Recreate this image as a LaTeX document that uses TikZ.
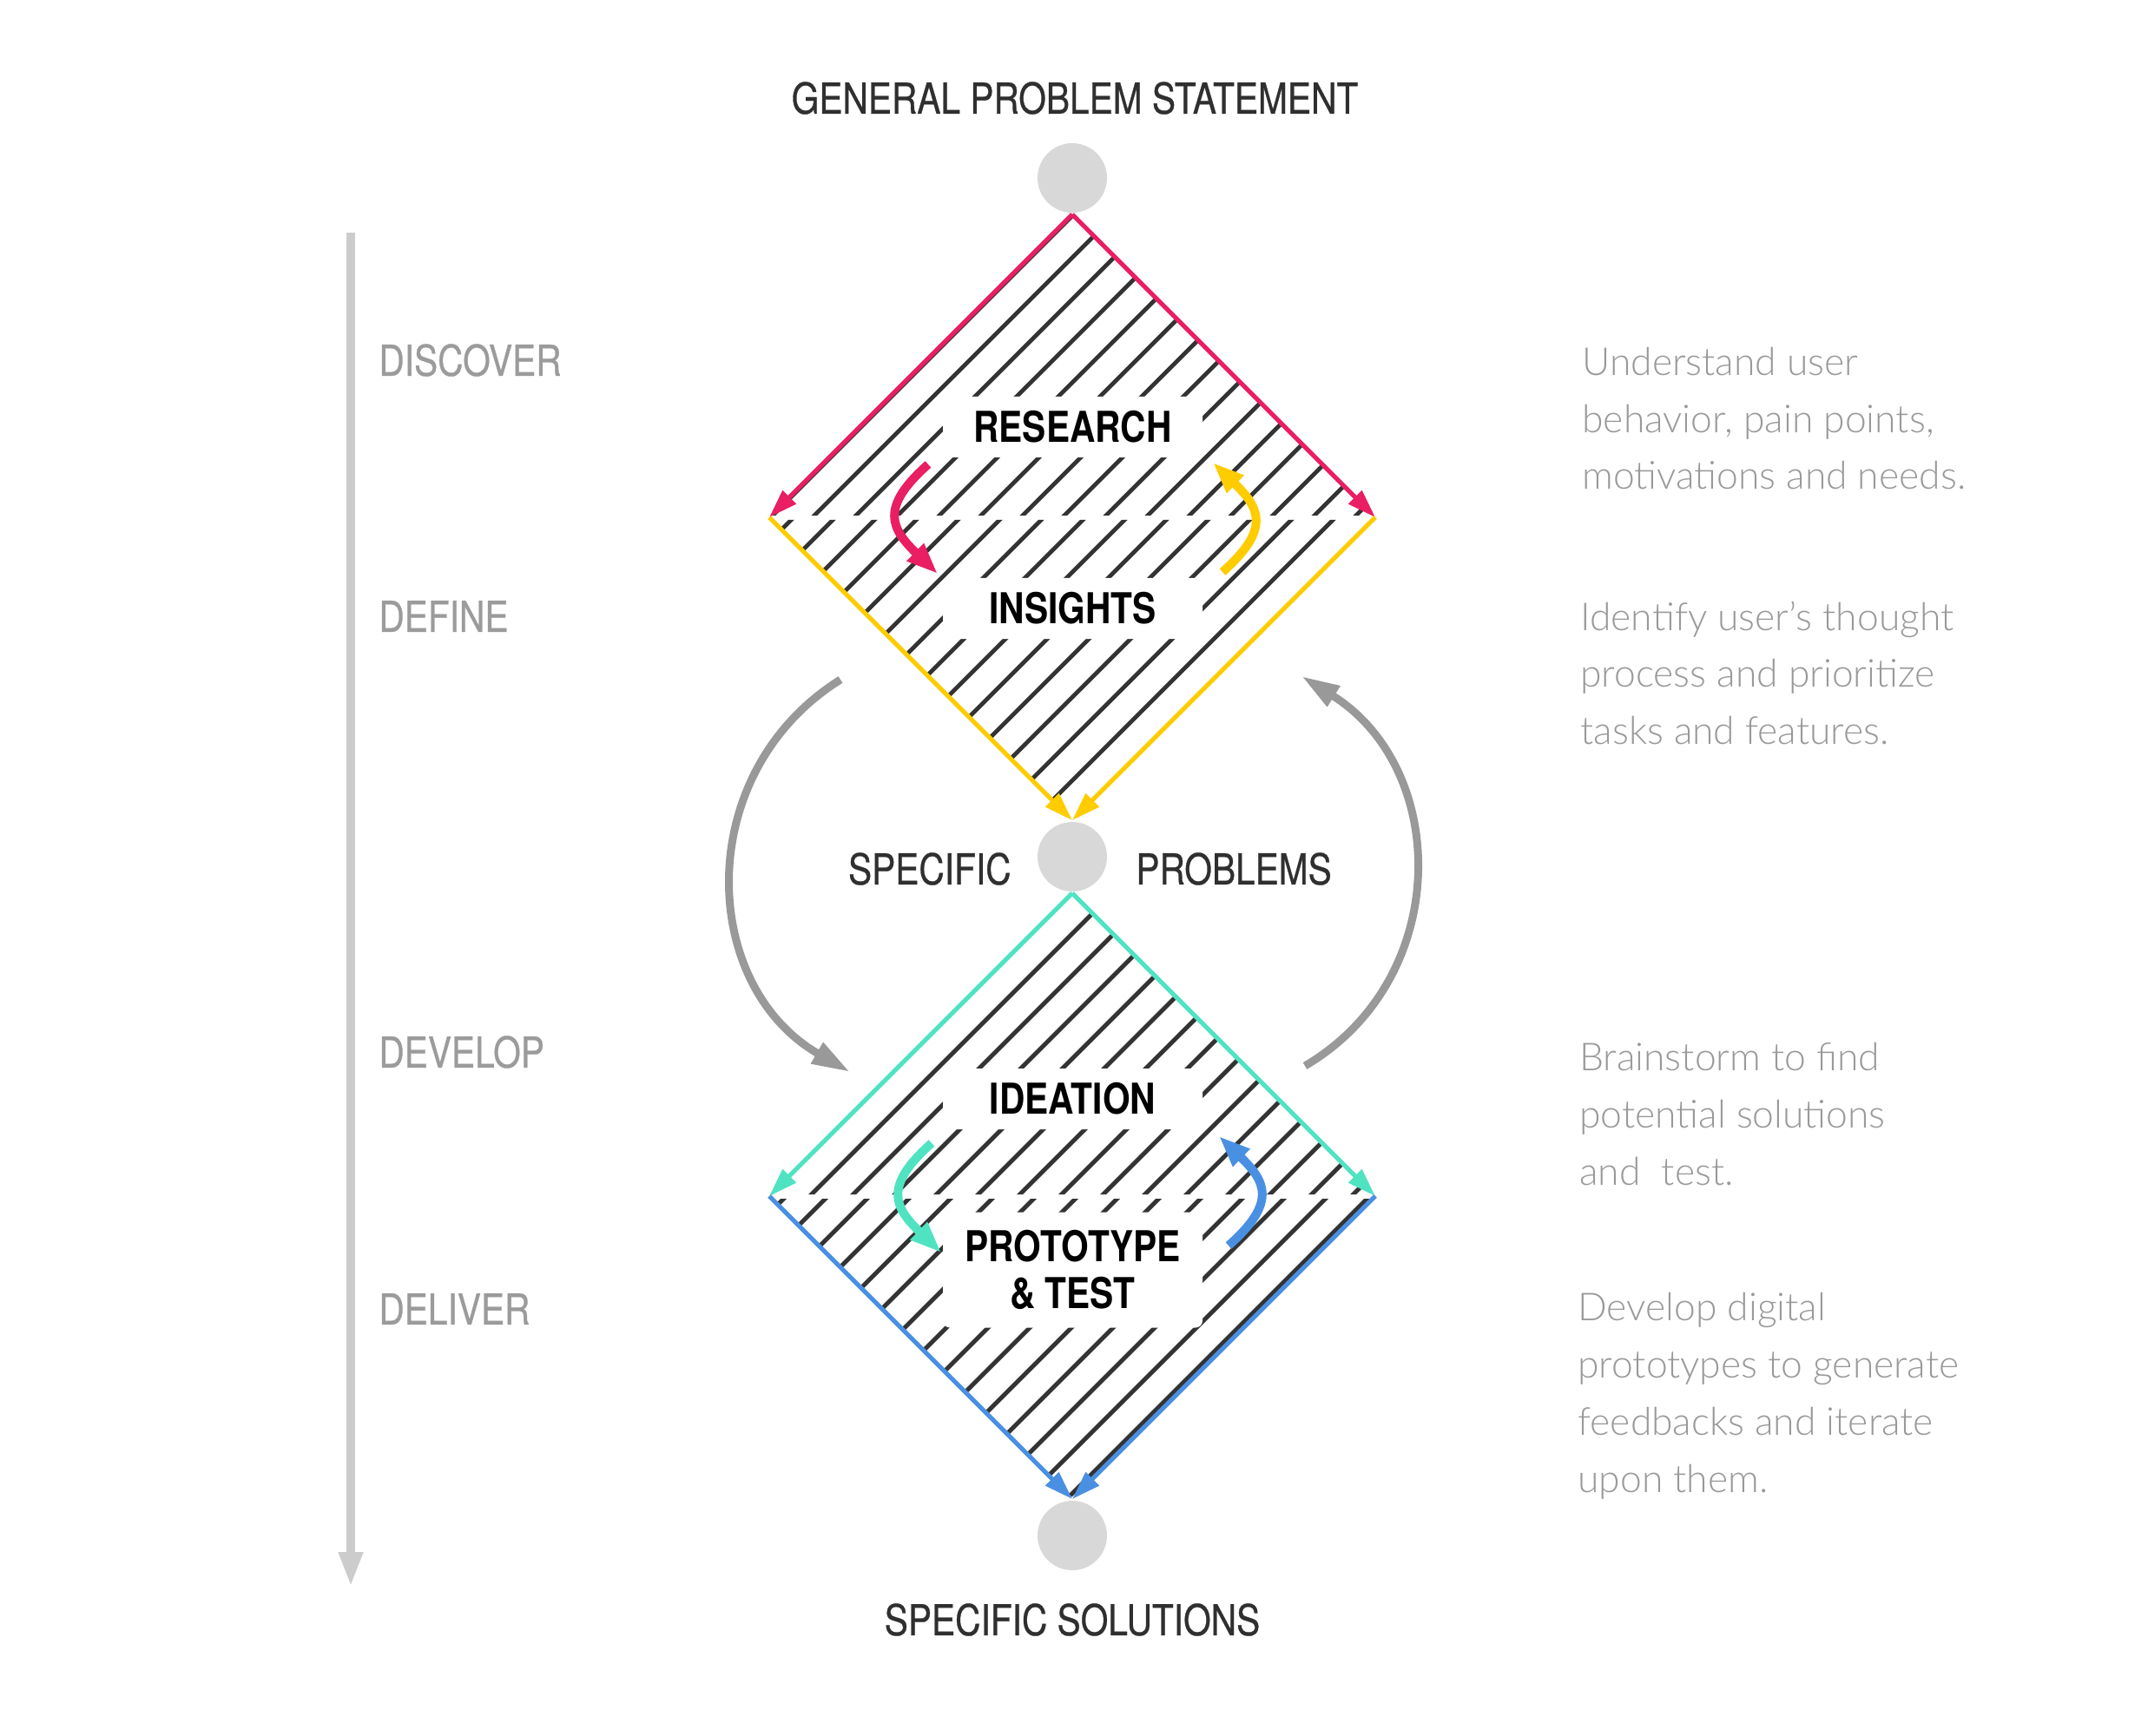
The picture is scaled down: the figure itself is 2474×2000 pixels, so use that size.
\documentclass[tikz,border=0pt]{standalone}
\usepackage{fontspec}
\usetikzlibrary{arrows.meta}
\newfontfamily\headfont[FakeStretch=0.83]{TeX Gyre Heros}
\newfontfamily\titlefont[FakeStretch=0.83, FakeBold=0.6]{TeX Gyre Heros}
\newfontfamily\descfont{Lato Light}

\definecolor{pinkedge}{HTML}{E91E63}
\definecolor{yellowedge}{HTML}{FFCC00}
\definecolor{tealedge}{HTML}{50E3C2}
\definecolor{blueedge}{HTML}{4A90E2}
\definecolor{dotgray}{HTML}{D8D8D8}
\definecolor{arcgray}{HTML}{999999}
\definecolor{axisgray}{HTML}{CCCCCC}
\definecolor{phasegray}{HTML}{9B9B9B}
\definecolor{descgray}{HTML}{999999}
\definecolor{titlegray}{HTML}{2F2F2F}
\definecolor{hatchgray}{HTML}{333333}

\tikzset{
  hatchline/.style={line width=2.4pt, draw=hatchgray},
  edgearrow/.style={line width=2.5pt, -{Triangle[length=16.5pt,width=10.5pt]}},
  looparrow/.style={line width=5pt, -{Triangle[length=18pt,width=13pt]}},
  bigloop/.style={line width=4.5pt, draw=arcgray, -{Triangle[length=22pt,width=13pt]}},
  axisarrow/.style={line width=5pt, draw=axisgray, -{Triangle[length=20pt,width=13pt]}},
  dot/.style={circle, fill=dotgray, minimum size=40pt, inner sep=0pt},
  headlabel/.style={font=\titlefont\fontsize{24.5pt}{29pt}\selectfont, text=titlegray, inner sep=0pt},
  phase/.style={font=\titlefont\fontsize{24.5pt}{29pt}\selectfont, text=phasegray, anchor=west, inner sep=0pt},
  stagebox/.style={fill=white, rounded corners=4pt, minimum width=149.5pt, minimum height=35pt,
    font=\headfont\bfseries\fontsize{24.5pt}{27pt}\selectfont, align=center, inner sep=0pt},
  desc/.style={font=\descfont\fontsize{22.2pt}{33pt}\selectfont, text=descgray, anchor=base west, inner sep=0pt},
}

\begin{document}
\begin{tikzpicture}[x=0.5pt, y=-0.5pt]
\useasboundingbox (0,0) rectangle (2474,2000);

% diamond corners
\coordinate (t1) at (1235,247);
\coordinate (l1) at (886,596);
\coordinate (r1) at (1584,596);
\coordinate (b1) at (1235,945);
\coordinate (t2) at (1235,1029);
\coordinate (l2) at (886,1378);
\coordinate (r2) at (1584,1378);
\coordinate (b2) at (1235,1727);

% hatching, each half of a diamond separately
\begin{scope}
  \clip (1235,249) -- (888,594) -- (1582,594) -- cycle;
  \foreach \k in {0,...,15} \draw[hatchline] ({1483.7+48*\k-1000},1000) -- ({1483.7+48*\k-100},100);
\end{scope}
\begin{scope}
  \clip (889,599) -- (1581,599) -- (1235,943) -- cycle;
  \foreach \k in {0,...,15} \draw[hatchline] ({1510.3+48*\k-1000},1000) -- ({1510.3+48*\k-100},100);
\end{scope}
\begin{scope}
  \clip (1235,1031) -- (888,1376) -- (1582,1376) -- cycle;
  \foreach \k in {0,...,15} \draw[hatchline] ({2262.6+48*\k-1800},1800) -- ({2262.6+48*\k-900},900);
\end{scope}
\begin{scope}
  \clip (889,1381) -- (1581,1381) -- (1235,1725) -- cycle;
  \foreach \k in {0,...,15} \draw[hatchline] ({2283.6+48*\k-1800},1800) -- ({2283.6+48*\k-900},900);
\end{scope}

% stage labels on white plates
\node[stagebox] (research) at (1235.5,492) {RESEARCH};
\node[stagebox] (insights) at (1235.5,701) {INSIGHTS};
\node[stagebox] (ideation) at (1235.5,1266) {IDEATION};
\node[stagebox, minimum height=66.5pt] (prototype) at (1235.5,1463) {PROTOTYPE\\\& TEST};

% diamond outlines
\draw[edgearrow, pinkedge] (t1) -- (l1);
\draw[edgearrow, pinkedge] (t1) -- (r1);
\draw[edgearrow, yellowedge] (l1) -- (b1);
\draw[edgearrow, yellowedge] (r1) -- (b1);
\draw[edgearrow, tealedge] (t2) -- (l2);
\draw[edgearrow, tealedge] (t2) -- (r2);
\draw[edgearrow, blueedge] (l2) -- (b2);
\draw[edgearrow, blueedge] (r2) -- (b2);

% small loops inside the diamonds
\coordinate (pk0) at (1069,535);  \coordinate (pk1) at (1080,661);
\coordinate (ye0) at (1408,659);  \coordinate (ye1) at (1397,533);
\coordinate (te0) at (1073,1317); \coordinate (te1) at (1084,1443);
\coordinate (bl0) at (1415,1435); \coordinate (bl1) at (1404,1309);
\draw[looparrow, pinkedge] (pk0) .. controls +(-56,49.5) and +(-54,-52) .. (pk1);
\draw[looparrow, yellowedge] (ye0) .. controls +(56,-49.5) and +(54,52) .. (ye1);
\draw[looparrow, tealedge] (te0) .. controls +(-56,49.5) and +(-54,-52) .. (te1);
\draw[looparrow, blueedge] (bl0) .. controls +(56,-49.5) and +(54,52) .. (bl1);

% large loops between the diamonds
\coordinate (la0) at (968,783);  \coordinate (la1) at (979,1235);
\coordinate (ra0) at (1503,1228); \coordinate (ra1) at (1499,779);
\draw[bigloop] (la0) .. controls +(-171,107) and +(-174,-100) .. (la1);
\draw[bigloop] (ra0) .. controls +(170,-100) and +(171,107) .. (ra1);

% milestones
\node[dot] (c1) at (1235,205) {};
\node[dot] (c2) at (1235,987) {};
\node[dot] (c3) at (1235,1769) {};

\node[headlabel] (general) at (1238,113) {GENERAL PROBLEM STATEMENT};
\node[headlabel, anchor=east] (specific) at (1165,1001) {SPECIFIC};
\node[headlabel, anchor=west] (problems) at (1308,1001) {PROBLEMS};
\node[headlabel] (solutions) at (1235,1866) {SPECIFIC SOLUTIONS};

% phase axis
\coordinate (ax0) at (404,268);
\coordinate (ax1) at (404,1828);
\draw[axisarrow] (ax0) -- (ax1);
\node[phase] (discover) at (436,415) {DISCOVER};
\node[phase] (define) at (436,710) {DEFINE};
\node[phase] (develop) at (436,1212) {DEVELOP};
\node[phase] (deliver) at (436,1508) {DELIVER};

% phase descriptions
\foreach \txt [count=\i] in {Understand user, {behavior, pain points,}, motivations and needs.}
  \node[desc] (descA\i) at (1822,{433+65.5*(\i-1)}) {\txt};
\foreach \txt [count=\i] in {Identify user’s thought, process and prioritize, tasks and features.}
  \node[desc] (descB\i) at (1820,{726+65.5*(\i-1)}) {\txt};
\foreach \txt [count=\i] in {Brainstorm to find, potential solutions, and~~test.}
  \node[desc] (descC\i) at (1819,{1233+66*(\i-1)}) {\txt};
\foreach \txt [count=\i] in {Develop digital, prototypes to generate, feedbacks and iterate, upon them.}
  \node[desc] (descD\i) at (1817,{1521+66*(\i-1)}) {\txt};
\end{tikzpicture}
\end{document}
